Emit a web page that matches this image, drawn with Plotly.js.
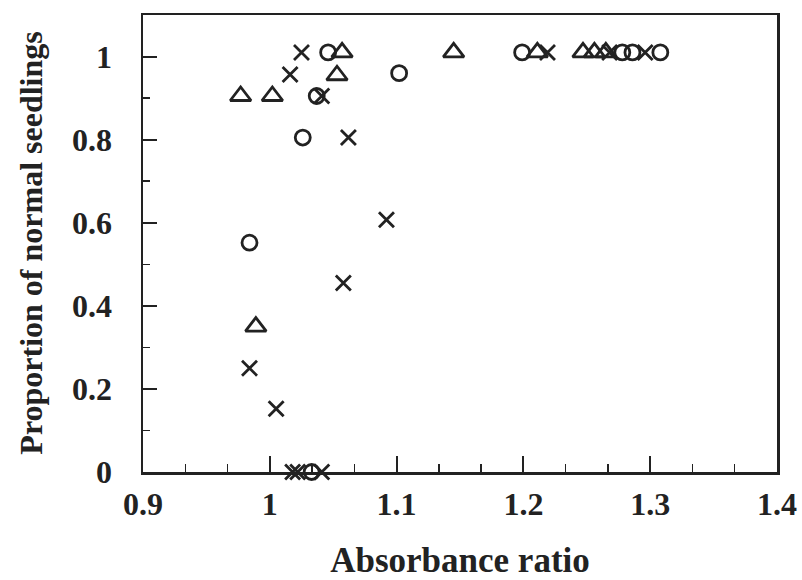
<!DOCTYPE html>
<html>
<head>
<meta charset="utf-8">
<script src="https://cdn.plot.ly/plotly-3.0.1.min.js"></script>
<style>html,body{margin:0;padding:0;background:#fff;}#chart{width:802px;height:580px;}</style>
</head>
<body>
<div id="chart"></div>
<script>
// Series: open circles
var circleX = [1.046, 1.037, 1.102, 1.026, 0.984, 1.199, 1.278, 1.286, 1.308, 1.033];
var circleY = [1.01, 0.905, 0.96, 0.805, 0.552, 1.01, 1.01, 1.01, 1.01, 0];
// Series: open triangles
var triX = [0.977, 1.002, 1.057, 1.053, 0.989, 1.145, 1.211, 1.247, 1.256, 1.265];
var triY = [0.905, 0.905, 1.01, 0.955, 0.35, 1.01, 1.01, 1.01, 1.01, 1.01];
// Series: crosses
var crossX = [1.025, 1.016, 1.041, 1.062, 1.092, 1.058, 0.984, 1.005, 1.219, 1.268, 1.296, 1.018, 1.022, 1.041];
var crossY = [1.01, 0.957, 0.905, 0.805, 0.607, 0.455, 0.25, 0.152, 1.01, 1.01, 1.01, 0, 0, 0];

var xTickVals = [0.9, 1.0, 1.1, 1.2, 1.3, 1.4];
var xTickText = ['0.9', '1', '1.1', '1.2', '1.3', '1.4'];
var yTickVals = [0, 0.2, 0.4, 0.6, 0.8, 1.0];
var yTickText = ['0', '0.2', '0.4', '0.6', '0.8', '1'];
var xTitle = 'Absorbance ratio';
var yTitle = 'Proportion of normal seedlings';

var ink = '#222';
function series(xs, ys, sym, size) {
  return {
    x: xs, y: ys, type: 'scatter', mode: 'markers', cliponaxis: false,
    marker: {symbol: sym, size: size, color: ink, line: {color: ink, width: 2.8}},
    hoverinfo: 'x+y'
  };
}
var data = [
  series(circleX, circleY, 'circle-open', 15),
  series(triX, triY, 'triangle-up-open', 18),
  series(crossX, crossY, 'x-thin-open', 15)
];

var fontFam = '"Liberation Serif", "Times New Roman", serif';
var layout = {
  width: 802, height: 580,
  margin: {l: 143, r: 25, t: 15, b: 108},
  paper_bgcolor: '#fff', plot_bgcolor: '#fff',
  showlegend: false,
  font: {family: fontFam, color: ink, size: 24},
  xaxis: {
    range: [0.9, 1.4], autorange: false,
    tickmode: 'array', tickvals: xTickVals, ticktext: xTickText,
    ticks: 'inside', ticklen: 16, tickwidth: 2, tickcolor: ink,
    minor: {dtick: 0.1/3, tick0: 0.9, ticks: 'inside', ticklen: 8, tickwidth: 1.5, tickcolor: ink, showgrid: false},
    showgrid: false, zeroline: false,
    showline: true, linewidth: 2.5, linecolor: ink, mirror: true,
    tickfont: {family: fontFam, size: 32, weight: 'bold', color: ink},
    ticklabelstandoff: 2,
    title: {text: '<b>' + xTitle + '</b>', font: {family: fontFam, size: 35, color: ink}, standoff: 30}
  },
  yaxis: {
    range: [0, 1.1], autorange: false,
    tickmode: 'array', tickvals: yTickVals, ticktext: yTickText,
    ticks: 'inside', ticklen: 14, tickwidth: 2, tickcolor: ink,
    minor: {dtick: 0.1, tick0: 0, ticks: 'inside', ticklen: 7, tickwidth: 1.5, tickcolor: ink, showgrid: false},
    showgrid: false, zeroline: false,
    showline: true, linewidth: 2.5, linecolor: ink, mirror: true,
    tickfont: {family: fontFam, size: 32, weight: 'bold', color: ink},
    ticklabelstandoff: 22
  },
  annotations: [{
    text: '<b>' + yTitle + '</b>', textangle: -90, showarrow: false,
    xref: 'paper', yref: 'paper', x: -0.178, y: 0.5, xanchor: 'center', yanchor: 'middle',
    font: {family: fontFam, size: 32, color: ink}
  }]
};
Plotly.newPlot('chart', data, layout, {displayModeBar: false, staticPlot: true});
</script>
</body>
</html>
